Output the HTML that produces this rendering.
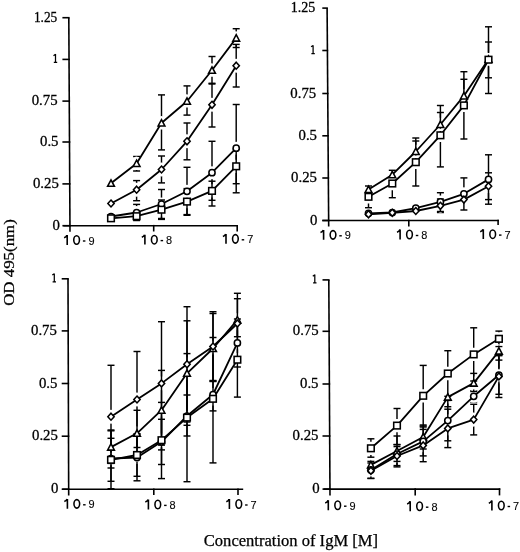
<!DOCTYPE html>
<html><head><meta charset="utf-8"><style>
html,body{margin:0;padding:0;background:#fff;overflow:hidden;width:520px;height:552px;}
svg{display:block;filter:grayscale(1);}
.se{font-family:"Liberation Serif",serif;}
.sa{font-family:"Liberation Sans",sans-serif;}
</style></head><body>
<svg width="520" height="552" viewBox="0 0 520 552">
<g stroke="#000" fill="none" stroke-linecap="butt">
<line x1="68.8" y1="17.7" x2="70" y2="231.8" stroke-width="1.6"/>
<line x1="62.4" y1="17.7" x2="69.6" y2="17.7" stroke-width="1.6"/>
<line x1="62.4" y1="59.4" x2="69.83" y2="59.4" stroke-width="1.6"/>
<line x1="62.4" y1="101.1" x2="70.07" y2="101.1" stroke-width="1.6"/>
<line x1="62.4" y1="142" x2="70.3" y2="142" stroke-width="1.6"/>
<line x1="62.4" y1="183.9" x2="70.53" y2="183.9" stroke-width="1.6"/>
<line x1="62.4" y1="225.7" x2="70.77" y2="225.7" stroke-width="1.6"/>
<line x1="63.4" y1="225.7" x2="238" y2="225.7" stroke-width="1.6"/>
<line x1="153.7" y1="224.9" x2="153.7" y2="231.5" stroke-width="1.6"/>
<line x1="237.2" y1="224.9" x2="237.2" y2="231.5" stroke-width="1.6"/>
</g>
<mask id="mAtr" maskUnits="userSpaceOnUse" x="0" y="0" width="520" height="552"><rect width="520" height="552" fill="#fff"/>
<g stroke="#000" fill="#000" stroke-width="6.75" stroke-linejoin="round">
<path d="M136.6 160.1L140 166.5L133.2 166.5Z"/>
<path d="M161.5 119.6L164.9 126L158.1 126Z"/>
<path d="M187 97.8L190.4 104.2L183.6 104.2Z"/>
<path d="M212 66.9L215.4 73.3L208.6 73.3Z"/>
<path d="M236.2 34.7L239.6 41.1L232.8 41.1Z"/>
</g></mask>
<g stroke="#000" fill="none" stroke-width="1.45" mask="url(#mAtr)">
<line x1="136.6" y1="156.5" x2="136.6" y2="171" stroke-width="1.45"/>
<line x1="133.1" y1="156.5" x2="140.1" y2="156.5" stroke-width="1.45"/>
<line x1="133.1" y1="171" x2="140.1" y2="171" stroke-width="1.45"/>
<line x1="161.5" y1="94.9" x2="161.5" y2="149.9" stroke-width="1.45"/>
<line x1="158" y1="94.9" x2="165" y2="94.9" stroke-width="1.45"/>
<line x1="158" y1="149.9" x2="165" y2="149.9" stroke-width="1.45"/>
<line x1="187" y1="85.9" x2="187" y2="115.1" stroke-width="1.45"/>
<line x1="183.5" y1="85.9" x2="190.5" y2="85.9" stroke-width="1.45"/>
<line x1="183.5" y1="115.1" x2="190.5" y2="115.1" stroke-width="1.45"/>
<line x1="212" y1="56.5" x2="212" y2="84" stroke-width="1.45"/>
<line x1="208.5" y1="56.5" x2="215.5" y2="56.5" stroke-width="1.45"/>
<line x1="208.5" y1="84" x2="215.5" y2="84" stroke-width="1.45"/>
<line x1="236.2" y1="28.7" x2="236.2" y2="47.5" stroke-width="1.45"/>
<line x1="232.7" y1="28.7" x2="239.7" y2="28.7" stroke-width="1.45"/>
<line x1="232.7" y1="47.5" x2="239.7" y2="47.5" stroke-width="1.45"/>
</g>
<mask id="mAdi" maskUnits="userSpaceOnUse" x="0" y="0" width="520" height="552"><rect width="520" height="552" fill="#fff"/>
<g stroke="#000" fill="#000" stroke-width="6.75" stroke-linejoin="round">
<path d="M136.6 186.25L139.75 189.7L136.6 193.15L133.45 189.7Z"/>
<path d="M161.5 166.05L164.65 169.5L161.5 172.95L158.35 169.5Z"/>
<path d="M187 137.85L190.15 141.3L187 144.75L183.85 141.3Z"/>
<path d="M212 101.35L215.15 104.8L212 108.25L208.85 104.8Z"/>
<path d="M236.2 62.25L239.35 65.7L236.2 69.15L233.05 65.7Z"/>
</g></mask>
<g stroke="#000" fill="none" stroke-width="1.45" mask="url(#mAdi)">
<line x1="136.6" y1="180.6" x2="136.6" y2="200.7" stroke-width="1.45"/>
<line x1="133.1" y1="180.6" x2="140.1" y2="180.6" stroke-width="1.45"/>
<line x1="133.1" y1="200.7" x2="140.1" y2="200.7" stroke-width="1.45"/>
<line x1="161.5" y1="156" x2="161.5" y2="182.9" stroke-width="1.45"/>
<line x1="158" y1="156" x2="165" y2="156" stroke-width="1.45"/>
<line x1="158" y1="182.9" x2="165" y2="182.9" stroke-width="1.45"/>
<line x1="187" y1="123" x2="187" y2="159.8" stroke-width="1.45"/>
<line x1="183.5" y1="123" x2="190.5" y2="123" stroke-width="1.45"/>
<line x1="183.5" y1="159.8" x2="190.5" y2="159.8" stroke-width="1.45"/>
<line x1="212" y1="83.3" x2="212" y2="127" stroke-width="1.45"/>
<line x1="208.5" y1="83.3" x2="215.5" y2="83.3" stroke-width="1.45"/>
<line x1="208.5" y1="127" x2="215.5" y2="127" stroke-width="1.45"/>
<line x1="236.2" y1="44.4" x2="236.2" y2="87" stroke-width="1.45"/>
<line x1="232.7" y1="44.4" x2="239.7" y2="44.4" stroke-width="1.45"/>
<line x1="232.7" y1="87" x2="239.7" y2="87" stroke-width="1.45"/>
</g>
<mask id="mAci" maskUnits="userSpaceOnUse" x="0" y="0" width="520" height="552"><rect width="520" height="552" fill="#fff"/>
<g stroke="#000" fill="#000" stroke-width="6.75" stroke-linejoin="round">
<circle cx="136.6" cy="212.5" r="3.1"/>
<circle cx="161.5" cy="204" r="3.1"/>
<circle cx="187" cy="191.3" r="3.1"/>
<circle cx="212" cy="172.7" r="3.1"/>
<circle cx="236.2" cy="148.2" r="3.1"/>
</g></mask>
<g stroke="#000" fill="none" stroke-width="1.45" mask="url(#mAci)">
<line x1="136.6" y1="204.4" x2="136.6" y2="220.5" stroke-width="1.45"/>
<line x1="133.1" y1="204.4" x2="140.1" y2="204.4" stroke-width="1.45"/>
<line x1="133.1" y1="220.5" x2="140.1" y2="220.5" stroke-width="1.45"/>
<line x1="161.5" y1="189.5" x2="161.5" y2="218.5" stroke-width="1.45"/>
<line x1="158" y1="189.5" x2="165" y2="189.5" stroke-width="1.45"/>
<line x1="158" y1="218.5" x2="165" y2="218.5" stroke-width="1.45"/>
<line x1="187" y1="167.3" x2="187" y2="215.3" stroke-width="1.45"/>
<line x1="183.5" y1="167.3" x2="190.5" y2="167.3" stroke-width="1.45"/>
<line x1="183.5" y1="215.3" x2="190.5" y2="215.3" stroke-width="1.45"/>
<line x1="212" y1="141.3" x2="212" y2="206" stroke-width="1.45"/>
<line x1="208.5" y1="141.3" x2="215.5" y2="141.3" stroke-width="1.45"/>
<line x1="208.5" y1="206" x2="215.5" y2="206" stroke-width="1.45"/>
<line x1="236.2" y1="104.5" x2="236.2" y2="192.8" stroke-width="1.45"/>
<line x1="232.7" y1="104.5" x2="239.7" y2="104.5" stroke-width="1.45"/>
<line x1="232.7" y1="192.8" x2="239.7" y2="192.8" stroke-width="1.45"/>
</g>
<mask id="mAsq" maskUnits="userSpaceOnUse" x="0" y="0" width="520" height="552"><rect width="520" height="552" fill="#fff"/>
<g stroke="#000" fill="#000" stroke-width="6.75" stroke-linejoin="round">
<rect x="158.2" y="206.4" width="6.6" height="6.6"/>
<rect x="183.7" y="198.3" width="6.6" height="6.6"/>
<rect x="208.7" y="187.6" width="6.6" height="6.6"/>
<rect x="232.9" y="163" width="6.6" height="6.6"/>
</g></mask>
<g stroke="#000" fill="none" stroke-width="1.45" mask="url(#mAsq)">
<line x1="161.5" y1="200" x2="161.5" y2="219.4" stroke-width="1.45"/>
<line x1="158" y1="200" x2="165" y2="200" stroke-width="1.45"/>
<line x1="158" y1="219.4" x2="165" y2="219.4" stroke-width="1.45"/>
<line x1="187" y1="188.6" x2="187" y2="214.6" stroke-width="1.45"/>
<line x1="183.5" y1="188.6" x2="190.5" y2="188.6" stroke-width="1.45"/>
<line x1="183.5" y1="214.6" x2="190.5" y2="214.6" stroke-width="1.45"/>
<line x1="212" y1="181.2" x2="212" y2="200.3" stroke-width="1.45"/>
<line x1="208.5" y1="181.2" x2="215.5" y2="181.2" stroke-width="1.45"/>
<line x1="208.5" y1="200.3" x2="215.5" y2="200.3" stroke-width="1.45"/>
<line x1="236.2" y1="149" x2="236.2" y2="183.7" stroke-width="1.45"/>
<line x1="232.7" y1="149" x2="239.7" y2="149" stroke-width="1.45"/>
<line x1="232.7" y1="183.7" x2="239.7" y2="183.7" stroke-width="1.45"/>
</g>
<g stroke="#000" fill="none" stroke-width="1.8" stroke-linejoin="round">
<polyline points="111,183.3 136.6,163.5 161.5,123 187,101.2 212,70.3 236.2,38.1"/>
<polyline points="111,203.5 136.6,189.7 161.5,169.5 187,141.3 212,104.8 236.2,65.7"/>
<polyline points="111,216.5 136.6,212.5 161.5,204 187,191.3 212,172.7 236.2,148.2"/>
<polyline points="111,218.3 136.6,216.2 161.5,209.7 187,201.6 212,190.9 236.2,166.3"/>
</g>
<g stroke="#000" fill="#fff" stroke-width="1.55">
<path d="M111 179.9L114.4 186.3L107.6 186.3Z"/>
<path d="M136.6 160.1L140 166.5L133.2 166.5Z"/>
<path d="M161.5 119.6L164.9 126L158.1 126Z"/>
<path d="M187 97.8L190.4 104.2L183.6 104.2Z"/>
<path d="M212 66.9L215.4 73.3L208.6 73.3Z"/>
<path d="M236.2 34.7L239.6 41.1L232.8 41.1Z"/>
<path d="M111 200.05L114.15 203.5L111 206.95L107.85 203.5Z"/>
<path d="M136.6 186.25L139.75 189.7L136.6 193.15L133.45 189.7Z"/>
<path d="M161.5 166.05L164.65 169.5L161.5 172.95L158.35 169.5Z"/>
<path d="M187 137.85L190.15 141.3L187 144.75L183.85 141.3Z"/>
<path d="M212 101.35L215.15 104.8L212 108.25L208.85 104.8Z"/>
<path d="M236.2 62.25L239.35 65.7L236.2 69.15L233.05 65.7Z"/>
<circle cx="111" cy="216.5" r="3.1"/>
<circle cx="136.6" cy="212.5" r="3.1"/>
<circle cx="161.5" cy="204" r="3.1"/>
<circle cx="187" cy="191.3" r="3.1"/>
<circle cx="212" cy="172.7" r="3.1"/>
<circle cx="236.2" cy="148.2" r="3.1"/>
<rect x="107.7" y="215" width="6.6" height="6.6"/>
<rect x="133.3" y="212.9" width="6.6" height="6.6"/>
<rect x="158.2" y="206.4" width="6.6" height="6.6"/>
<rect x="183.7" y="198.3" width="6.6" height="6.6"/>
<rect x="208.7" y="187.6" width="6.6" height="6.6"/>
<rect x="232.9" y="163" width="6.6" height="6.6"/>
</g>
<g class="se" font-size="14.8" fill="#000" stroke="#000" stroke-width="0.3" text-anchor="end">
<text x="57.3" y="21.7" textLength="23.4" lengthAdjust="spacingAndGlyphs">1.25</text>
<path d="M55.5 54.1V63M53.8 62.45H57.2M53.5 55.7L55.5 54.3" fill="none" stroke="#000" stroke-width="1.25"/>
<text x="57.6" y="105.1">0.75</text>
<text x="58.5" y="146">0.5</text>
<text x="58.8" y="187.9">0.25</text>
<text x="60" y="229.7">0</text>
</g>
<g class="sa" fill="#000">
<path d="M64.1 237.7Q66.3 236.9 66.9 235.2M67.2 235.1V245" fill="none" stroke="#000" stroke-width="1.6"/>
<ellipse cx="76.6" cy="240.05" rx="2.85" ry="4.25" fill="none" stroke="#000" stroke-width="1.55"/>
<rect x="82.9" y="240.3" width="2.5" height="1.4"/>
<text x="88.4" y="244.5" font-size="10.8" textLength="6.1" lengthAdjust="spacingAndGlyphs" stroke="#000" stroke-width="0.1">9</text>
<path d="M141.8 237.3Q144 236.5 144.6 234.8M144.9 234.7V244.6" fill="none" stroke="#000" stroke-width="1.6"/>
<ellipse cx="154.3" cy="239.65" rx="2.85" ry="4.25" fill="none" stroke="#000" stroke-width="1.55"/>
<rect x="160.6" y="239.9" width="2.5" height="1.4"/>
<text x="166.1" y="244.1" font-size="10.8" textLength="6.1" lengthAdjust="spacingAndGlyphs" stroke="#000" stroke-width="0.1">8</text>
<path d="M222.9 236.5Q225.1 235.7 225.7 234M226 233.9V243.8" fill="none" stroke="#000" stroke-width="1.6"/>
<ellipse cx="235.4" cy="238.85" rx="2.85" ry="4.25" fill="none" stroke="#000" stroke-width="1.55"/>
<rect x="241.7" y="239.1" width="2.5" height="1.4"/>
<text x="247.2" y="243.3" font-size="10.8" textLength="6.1" lengthAdjust="spacingAndGlyphs" stroke="#000" stroke-width="0.1">7</text>
</g>
<g stroke="#000" fill="none" stroke-linecap="butt">
<line x1="327.1" y1="8.1" x2="328.7" y2="226.5" stroke-width="1.6"/>
<line x1="322.3" y1="8.1" x2="327.9" y2="8.1" stroke-width="1.6"/>
<line x1="322.3" y1="50.5" x2="328.21" y2="50.5" stroke-width="1.6"/>
<line x1="322.3" y1="93.5" x2="328.53" y2="93.5" stroke-width="1.6"/>
<line x1="322.3" y1="135.8" x2="328.84" y2="135.8" stroke-width="1.6"/>
<line x1="322.3" y1="178" x2="329.14" y2="178" stroke-width="1.6"/>
<line x1="322.3" y1="220.5" x2="329.46" y2="220.5" stroke-width="1.6"/>
<line x1="322.3" y1="220.5" x2="498.9" y2="220.5" stroke-width="1.6"/>
<line x1="408.8" y1="219.7" x2="408.8" y2="226.4" stroke-width="1.6"/>
<line x1="498.1" y1="219.7" x2="498.1" y2="225" stroke-width="1.6"/>
</g>
<mask id="mBtr" maskUnits="userSpaceOnUse" x="0" y="0" width="520" height="552"><rect width="520" height="552" fill="#fff"/>
<g stroke="#000" fill="#000" stroke-width="6.75" stroke-linejoin="round">
<path d="M415.8 148.1L419.2 154.5L412.4 154.5Z"/>
<path d="M440.4 121.1L443.8 127.5L437 127.5Z"/>
<path d="M463.9 92.5L467.3 98.9L460.5 98.9Z"/>
<path d="M488.5 55.9L491.9 62.3L485.1 62.3Z"/>
</g></mask>
<g stroke="#000" fill="none" stroke-width="1.45" mask="url(#mBtr)">
<line x1="415.8" y1="141" x2="415.8" y2="162" stroke-width="1.45"/>
<line x1="412.3" y1="141" x2="419.3" y2="141" stroke-width="1.45"/>
<line x1="412.3" y1="162" x2="419.3" y2="162" stroke-width="1.45"/>
<line x1="440.4" y1="112.5" x2="440.4" y2="136.5" stroke-width="1.45"/>
<line x1="436.9" y1="112.5" x2="443.9" y2="112.5" stroke-width="1.45"/>
<line x1="436.9" y1="136.5" x2="443.9" y2="136.5" stroke-width="1.45"/>
<line x1="463.9" y1="79.3" x2="463.9" y2="95.9" stroke-width="1.45"/>
<line x1="460.4" y1="79.3" x2="467.4" y2="79.3" stroke-width="1.45"/>
<line x1="488.5" y1="42" x2="488.5" y2="77.8" stroke-width="1.45"/>
<line x1="485" y1="42" x2="492" y2="42" stroke-width="1.45"/>
<line x1="485" y1="77.8" x2="492" y2="77.8" stroke-width="1.45"/>
</g>
<mask id="mBsq" maskUnits="userSpaceOnUse" x="0" y="0" width="520" height="552"><rect width="520" height="552" fill="#fff"/>
<g stroke="#000" fill="#000" stroke-width="6.75" stroke-linejoin="round">
<rect x="365.2" y="193.5" width="6.6" height="6.6"/>
<rect x="389" y="180.2" width="6.6" height="6.6"/>
<rect x="412.5" y="158.9" width="6.6" height="6.6"/>
<rect x="437.1" y="132" width="6.6" height="6.6"/>
<rect x="460.6" y="102.1" width="6.6" height="6.6"/>
<rect x="485.2" y="56.4" width="6.6" height="6.6"/>
</g></mask>
<g stroke="#000" fill="none" stroke-width="1.45" mask="url(#mBsq)">
<line x1="368.5" y1="186" x2="368.5" y2="207.7" stroke-width="1.45"/>
<line x1="365" y1="186" x2="372" y2="186" stroke-width="1.45"/>
<line x1="365" y1="207.7" x2="372" y2="207.7" stroke-width="1.45"/>
<line x1="392.3" y1="170.3" x2="392.3" y2="197.7" stroke-width="1.45"/>
<line x1="388.8" y1="170.3" x2="395.8" y2="170.3" stroke-width="1.45"/>
<line x1="388.8" y1="197.7" x2="395.8" y2="197.7" stroke-width="1.45"/>
<line x1="415.8" y1="138" x2="415.8" y2="186" stroke-width="1.45"/>
<line x1="412.3" y1="138" x2="419.3" y2="138" stroke-width="1.45"/>
<line x1="412.3" y1="186" x2="419.3" y2="186" stroke-width="1.45"/>
<line x1="440.4" y1="105.5" x2="440.4" y2="166.9" stroke-width="1.45"/>
<line x1="436.9" y1="105.5" x2="443.9" y2="105.5" stroke-width="1.45"/>
<line x1="436.9" y1="166.9" x2="443.9" y2="166.9" stroke-width="1.45"/>
<line x1="463.9" y1="71.7" x2="463.9" y2="139" stroke-width="1.45"/>
<line x1="460.4" y1="71.7" x2="467.4" y2="71.7" stroke-width="1.45"/>
<line x1="460.4" y1="139" x2="467.4" y2="139" stroke-width="1.45"/>
<line x1="488.5" y1="26.8" x2="488.5" y2="93.5" stroke-width="1.45"/>
<line x1="485" y1="26.8" x2="492" y2="26.8" stroke-width="1.45"/>
<line x1="485" y1="93.5" x2="492" y2="93.5" stroke-width="1.45"/>
</g>
<mask id="mBci" maskUnits="userSpaceOnUse" x="0" y="0" width="520" height="552"><rect width="520" height="552" fill="#fff"/>
<g stroke="#000" fill="#000" stroke-width="6.75" stroke-linejoin="round">
<circle cx="440.4" cy="201.9" r="3.1"/>
<circle cx="463.9" cy="193.8" r="3.1"/>
<circle cx="488.5" cy="179.4" r="3.1"/>
</g></mask>
<g stroke="#000" fill="none" stroke-width="1.45" mask="url(#mBci)">
<line x1="440.4" y1="192.7" x2="440.4" y2="211.5" stroke-width="1.45"/>
<line x1="436.9" y1="192.7" x2="443.9" y2="192.7" stroke-width="1.45"/>
<line x1="436.9" y1="211.5" x2="443.9" y2="211.5" stroke-width="1.45"/>
<line x1="463.9" y1="177.9" x2="463.9" y2="210" stroke-width="1.45"/>
<line x1="460.4" y1="177.9" x2="467.4" y2="177.9" stroke-width="1.45"/>
<line x1="460.4" y1="210" x2="467.4" y2="210" stroke-width="1.45"/>
<line x1="488.5" y1="154.8" x2="488.5" y2="204.2" stroke-width="1.45"/>
<line x1="485" y1="154.8" x2="492" y2="154.8" stroke-width="1.45"/>
<line x1="485" y1="204.2" x2="492" y2="204.2" stroke-width="1.45"/>
</g>
<mask id="mBdi" maskUnits="userSpaceOnUse" x="0" y="0" width="520" height="552"><rect width="520" height="552" fill="#fff"/>
<g stroke="#000" fill="#000" stroke-width="6.75" stroke-linejoin="round">
<path d="M440.4 202.35L443.55 205.8L440.4 209.25L437.25 205.8Z"/>
<path d="M488.5 182.75L491.65 186.2L488.5 189.65L485.35 186.2Z"/>
</g></mask>
<g stroke="#000" fill="none" stroke-width="1.45" mask="url(#mBdi)">
<line x1="440.4" y1="199" x2="440.4" y2="212.5" stroke-width="1.45"/>
<line x1="436.9" y1="199" x2="443.9" y2="199" stroke-width="1.45"/>
<line x1="436.9" y1="212.5" x2="443.9" y2="212.5" stroke-width="1.45"/>
<line x1="488.5" y1="172.8" x2="488.5" y2="199.6" stroke-width="1.45"/>
<line x1="485" y1="172.8" x2="492" y2="172.8" stroke-width="1.45"/>
<line x1="485" y1="199.6" x2="492" y2="199.6" stroke-width="1.45"/>
</g>
<g stroke="#000" fill="none" stroke-width="1.8" stroke-linejoin="round">
<polyline points="368.5,189.5 392.3,174.7 415.8,151.5 440.4,124.5 463.9,95.9 488.5,59.3"/>
<polyline points="368.5,196.8 392.3,183.5 415.8,162.2 440.4,135.3 463.9,105.4 488.5,59.7"/>
<polyline points="368.5,213.3 392.3,212.5 415.8,208.1 440.4,201.9 463.9,193.8 488.5,179.4"/>
<polyline points="368.5,214.3 392.3,212.8 415.8,211 440.4,205.8 463.9,199.6 488.5,186.2"/>
</g>
<g stroke="#000" fill="#fff" stroke-width="1.55">
<path d="M368.5 186.1L371.9 192.5L365.1 192.5Z"/>
<path d="M392.3 171.3L395.7 177.7L388.9 177.7Z"/>
<path d="M415.8 148.1L419.2 154.5L412.4 154.5Z"/>
<path d="M440.4 121.1L443.8 127.5L437 127.5Z"/>
<path d="M463.9 92.5L467.3 98.9L460.5 98.9Z"/>
<path d="M488.5 55.9L491.9 62.3L485.1 62.3Z"/>
<rect x="365.2" y="193.5" width="6.6" height="6.6"/>
<rect x="389" y="180.2" width="6.6" height="6.6"/>
<rect x="412.5" y="158.9" width="6.6" height="6.6"/>
<rect x="437.1" y="132" width="6.6" height="6.6"/>
<rect x="460.6" y="102.1" width="6.6" height="6.6"/>
<rect x="485.2" y="56.4" width="6.6" height="6.6"/>
<circle cx="368.5" cy="213.3" r="3.1"/>
<circle cx="392.3" cy="212.5" r="3.1"/>
<circle cx="415.8" cy="208.1" r="3.1"/>
<circle cx="440.4" cy="201.9" r="3.1"/>
<circle cx="463.9" cy="193.8" r="3.1"/>
<circle cx="488.5" cy="179.4" r="3.1"/>
<path d="M368.5 210.85L371.65 214.3L368.5 217.75L365.35 214.3Z"/>
<path d="M392.3 209.35L395.45 212.8L392.3 216.25L389.15 212.8Z"/>
<path d="M415.8 207.55L418.95 211L415.8 214.45L412.65 211Z"/>
<path d="M440.4 202.35L443.55 205.8L440.4 209.25L437.25 205.8Z"/>
<path d="M463.9 196.15L467.05 199.6L463.9 203.05L460.75 199.6Z"/>
<path d="M488.5 182.75L491.65 186.2L488.5 189.65L485.35 186.2Z"/>
</g>
<g class="se" font-size="14.8" fill="#000" stroke="#000" stroke-width="0.3" text-anchor="end">
<text x="315.4" y="12.1" textLength="24.6" lengthAdjust="spacingAndGlyphs">1.25</text>
<path d="M313.1 45.2V54.1M311.4 53.55H314.8M311.1 46.8L313.1 45.4" fill="none" stroke="#000" stroke-width="1.25"/>
<text x="316.2" y="97.5">0.75</text>
<text x="317" y="139.8">0.5</text>
<text x="317" y="182">0.25</text>
<text x="317.4" y="224.5">0</text>
</g>
<g class="sa" fill="#000">
<path d="M320.5 232.5Q322.7 231.7 323.3 230M323.6 229.9V239.8" fill="none" stroke="#000" stroke-width="1.6"/>
<ellipse cx="333" cy="234.85" rx="2.85" ry="4.25" fill="none" stroke="#000" stroke-width="1.55"/>
<rect x="339.3" y="235.1" width="2.5" height="1.4"/>
<text x="344.8" y="239.3" font-size="10.8" textLength="6.1" lengthAdjust="spacingAndGlyphs" stroke="#000" stroke-width="0.1">9</text>
<path d="M397 232.2Q399.2 231.4 399.8 229.7M400.1 229.6V239.5" fill="none" stroke="#000" stroke-width="1.6"/>
<ellipse cx="409.5" cy="234.55" rx="2.85" ry="4.25" fill="none" stroke="#000" stroke-width="1.55"/>
<rect x="415.8" y="234.8" width="2.5" height="1.4"/>
<text x="421.3" y="239" font-size="10.8" textLength="6.1" lengthAdjust="spacingAndGlyphs" stroke="#000" stroke-width="0.1">8</text>
<path d="M480.2 231.8Q482.4 231 483 229.3M483.3 229.2V239.1" fill="none" stroke="#000" stroke-width="1.6"/>
<ellipse cx="492.7" cy="234.15" rx="2.85" ry="4.25" fill="none" stroke="#000" stroke-width="1.55"/>
<rect x="499" y="234.4" width="2.5" height="1.4"/>
<text x="504.5" y="238.6" font-size="10.8" textLength="6.1" lengthAdjust="spacingAndGlyphs" stroke="#000" stroke-width="0.1">7</text>
</g>
<g stroke="#000" fill="none" stroke-linecap="butt">
<line x1="68" y1="278.8" x2="68.7" y2="495.5" stroke-width="1.6"/>
<line x1="61.7" y1="278.8" x2="68.8" y2="278.8" stroke-width="1.6"/>
<line x1="61.7" y1="330.9" x2="68.97" y2="330.9" stroke-width="1.6"/>
<line x1="61.7" y1="383.5" x2="69.14" y2="383.5" stroke-width="1.6"/>
<line x1="61.7" y1="436.2" x2="69.31" y2="436.2" stroke-width="1.6"/>
<line x1="61.7" y1="489.2" x2="69.48" y2="489.2" stroke-width="1.6"/>
<line x1="62.3" y1="489.2" x2="243.2" y2="489.2" stroke-width="1.6"/>
<line x1="153.8" y1="488.4" x2="153.8" y2="495" stroke-width="1.6"/>
<line x1="238" y1="488.4" x2="238" y2="495" stroke-width="1.6"/>
</g>
<mask id="mCtr" maskUnits="userSpaceOnUse" x="0" y="0" width="520" height="552"><rect width="520" height="552" fill="#fff"/>
<g stroke="#000" fill="#000" stroke-width="6.75" stroke-linejoin="round">
<path d="M111 443.7L114.4 450.1L107.6 450.1Z"/>
<path d="M137 429.9L140.4 436.3L133.6 436.3Z"/>
<path d="M161.5 406.8L164.9 413.2L158.1 413.2Z"/>
<path d="M187 369.9L190.4 376.3L183.6 376.3Z"/>
<path d="M213 345.1L216.4 351.5L209.6 351.5Z"/>
<path d="M237.4 316.5L240.8 322.9L234 322.9Z"/>
</g></mask>
<g stroke="#000" fill="none" stroke-width="1.45" mask="url(#mCtr)">
<line x1="111" y1="430.8" x2="111" y2="463.4" stroke-width="1.45"/>
<line x1="107.5" y1="430.8" x2="114.5" y2="430.8" stroke-width="1.45"/>
<line x1="107.5" y1="463.4" x2="114.5" y2="463.4" stroke-width="1.45"/>
<line x1="137" y1="410.3" x2="137" y2="456.3" stroke-width="1.45"/>
<line x1="133.5" y1="410.3" x2="140.5" y2="410.3" stroke-width="1.45"/>
<line x1="133.5" y1="456.3" x2="140.5" y2="456.3" stroke-width="1.45"/>
<line x1="161.5" y1="370.4" x2="161.5" y2="449.9" stroke-width="1.45"/>
<line x1="158" y1="370.4" x2="165" y2="370.4" stroke-width="1.45"/>
<line x1="158" y1="449.9" x2="165" y2="449.9" stroke-width="1.45"/>
<line x1="187" y1="320.8" x2="187" y2="425.3" stroke-width="1.45"/>
<line x1="183.5" y1="320.8" x2="190.5" y2="320.8" stroke-width="1.45"/>
<line x1="183.5" y1="425.3" x2="190.5" y2="425.3" stroke-width="1.45"/>
<line x1="213" y1="313.5" x2="213" y2="381" stroke-width="1.45"/>
<line x1="209.5" y1="313.5" x2="216.5" y2="313.5" stroke-width="1.45"/>
<line x1="209.5" y1="381" x2="216.5" y2="381" stroke-width="1.45"/>
<line x1="237.4" y1="293.3" x2="237.4" y2="344.5" stroke-width="1.45"/>
<line x1="233.9" y1="293.3" x2="240.9" y2="293.3" stroke-width="1.45"/>
<line x1="233.9" y1="344.5" x2="240.9" y2="344.5" stroke-width="1.45"/>
</g>
<mask id="mCdi" maskUnits="userSpaceOnUse" x="0" y="0" width="520" height="552"><rect width="520" height="552" fill="#fff"/>
<g stroke="#000" fill="#000" stroke-width="6.75" stroke-linejoin="round">
<path d="M111 413.25L114.15 416.7L111 420.15L107.85 416.7Z"/>
<path d="M137 396.05L140.15 399.5L137 402.95L133.85 399.5Z"/>
<path d="M161.5 379.95L164.65 383.4L161.5 386.85L158.35 383.4Z"/>
<path d="M187 360.85L190.15 364.3L187 367.75L183.85 364.3Z"/>
<path d="M213 343.05L216.15 346.5L213 349.95L209.85 346.5Z"/>
<path d="M237.4 320.05L240.55 323.5L237.4 326.95L234.25 323.5Z"/>
</g></mask>
<g stroke="#000" fill="none" stroke-width="1.45" mask="url(#mCdi)">
<line x1="111" y1="365.3" x2="111" y2="468" stroke-width="1.45"/>
<line x1="107.5" y1="365.3" x2="114.5" y2="365.3" stroke-width="1.45"/>
<line x1="107.5" y1="468" x2="114.5" y2="468" stroke-width="1.45"/>
<line x1="137" y1="351.5" x2="137" y2="447.5" stroke-width="1.45"/>
<line x1="133.5" y1="351.5" x2="140.5" y2="351.5" stroke-width="1.45"/>
<line x1="133.5" y1="447.5" x2="140.5" y2="447.5" stroke-width="1.45"/>
<line x1="161.5" y1="321.7" x2="161.5" y2="445.1" stroke-width="1.45"/>
<line x1="158" y1="321.7" x2="165" y2="321.7" stroke-width="1.45"/>
<line x1="158" y1="445.1" x2="165" y2="445.1" stroke-width="1.45"/>
<line x1="187" y1="306.7" x2="187" y2="422" stroke-width="1.45"/>
<line x1="183.5" y1="306.7" x2="190.5" y2="306.7" stroke-width="1.45"/>
<line x1="183.5" y1="422" x2="190.5" y2="422" stroke-width="1.45"/>
<line x1="213" y1="311.7" x2="213" y2="381.5" stroke-width="1.45"/>
<line x1="209.5" y1="311.7" x2="216.5" y2="311.7" stroke-width="1.45"/>
<line x1="209.5" y1="381.5" x2="216.5" y2="381.5" stroke-width="1.45"/>
<line x1="237.4" y1="298.7" x2="237.4" y2="336.7" stroke-width="1.45"/>
<line x1="233.9" y1="298.7" x2="240.9" y2="298.7" stroke-width="1.45"/>
<line x1="233.9" y1="336.7" x2="240.9" y2="336.7" stroke-width="1.45"/>
</g>
<mask id="mCci" maskUnits="userSpaceOnUse" x="0" y="0" width="520" height="552"><rect width="520" height="552" fill="#fff"/>
<g stroke="#000" fill="#000" stroke-width="6.75" stroke-linejoin="round">
<circle cx="111" cy="458.5" r="3.1"/>
<circle cx="137" cy="457.5" r="3.1"/>
<circle cx="161.5" cy="441.8" r="3.1"/>
<circle cx="187" cy="416" r="3.1"/>
<circle cx="213" cy="394.5" r="3.1"/>
<circle cx="237.4" cy="342.9" r="3.1"/>
</g></mask>
<g stroke="#000" fill="none" stroke-width="1.45" mask="url(#mCci)">
<line x1="111" y1="430" x2="111" y2="488.7" stroke-width="1.45"/>
<line x1="107.5" y1="430" x2="114.5" y2="430" stroke-width="1.45"/>
<line x1="107.5" y1="488.7" x2="114.5" y2="488.7" stroke-width="1.45"/>
<line x1="137" y1="434.2" x2="137" y2="480.8" stroke-width="1.45"/>
<line x1="133.5" y1="434.2" x2="140.5" y2="434.2" stroke-width="1.45"/>
<line x1="133.5" y1="480.8" x2="140.5" y2="480.8" stroke-width="1.45"/>
<line x1="161.5" y1="419.3" x2="161.5" y2="464.5" stroke-width="1.45"/>
<line x1="158" y1="419.3" x2="165" y2="419.3" stroke-width="1.45"/>
<line x1="158" y1="464.5" x2="165" y2="464.5" stroke-width="1.45"/>
<line x1="187" y1="395" x2="187" y2="436" stroke-width="1.45"/>
<line x1="183.5" y1="395" x2="190.5" y2="395" stroke-width="1.45"/>
<line x1="183.5" y1="436" x2="190.5" y2="436" stroke-width="1.45"/>
<line x1="213" y1="380.5" x2="213" y2="410.9" stroke-width="1.45"/>
<line x1="209.5" y1="380.5" x2="216.5" y2="380.5" stroke-width="1.45"/>
<line x1="209.5" y1="410.9" x2="216.5" y2="410.9" stroke-width="1.45"/>
<line x1="237.4" y1="319" x2="237.4" y2="367" stroke-width="1.45"/>
<line x1="233.9" y1="319" x2="240.9" y2="319" stroke-width="1.45"/>
<line x1="233.9" y1="367" x2="240.9" y2="367" stroke-width="1.45"/>
</g>
<mask id="mCsq" maskUnits="userSpaceOnUse" x="0" y="0" width="520" height="552"><rect width="520" height="552" fill="#fff"/>
<g stroke="#000" fill="#000" stroke-width="6.75" stroke-linejoin="round">
<rect x="107.7" y="456.5" width="6.6" height="6.6"/>
<rect x="133.7" y="451.7" width="6.6" height="6.6"/>
<rect x="158.2" y="436.9" width="6.6" height="6.6"/>
<rect x="183.7" y="414.3" width="6.6" height="6.6"/>
<rect x="209.7" y="395.5" width="6.6" height="6.6"/>
<rect x="234.1" y="356.4" width="6.6" height="6.6"/>
</g></mask>
<g stroke="#000" fill="none" stroke-width="1.45" mask="url(#mCsq)">
<line x1="111" y1="438.3" x2="111" y2="481.3" stroke-width="1.45"/>
<line x1="107.5" y1="438.3" x2="114.5" y2="438.3" stroke-width="1.45"/>
<line x1="107.5" y1="481.3" x2="114.5" y2="481.3" stroke-width="1.45"/>
<line x1="137" y1="433.7" x2="137" y2="476.3" stroke-width="1.45"/>
<line x1="133.5" y1="433.7" x2="140.5" y2="433.7" stroke-width="1.45"/>
<line x1="133.5" y1="476.3" x2="140.5" y2="476.3" stroke-width="1.45"/>
<line x1="161.5" y1="402.4" x2="161.5" y2="478.6" stroke-width="1.45"/>
<line x1="158" y1="402.4" x2="165" y2="402.4" stroke-width="1.45"/>
<line x1="158" y1="478.6" x2="165" y2="478.6" stroke-width="1.45"/>
<line x1="187" y1="353.6" x2="187" y2="481.7" stroke-width="1.45"/>
<line x1="183.5" y1="353.6" x2="190.5" y2="353.6" stroke-width="1.45"/>
<line x1="183.5" y1="481.7" x2="190.5" y2="481.7" stroke-width="1.45"/>
<line x1="213" y1="337.5" x2="213" y2="462.9" stroke-width="1.45"/>
<line x1="209.5" y1="337.5" x2="216.5" y2="337.5" stroke-width="1.45"/>
<line x1="209.5" y1="462.9" x2="216.5" y2="462.9" stroke-width="1.45"/>
<line x1="237.4" y1="322.3" x2="237.4" y2="397.1" stroke-width="1.45"/>
<line x1="233.9" y1="322.3" x2="240.9" y2="322.3" stroke-width="1.45"/>
<line x1="233.9" y1="397.1" x2="240.9" y2="397.1" stroke-width="1.45"/>
</g>
<g stroke="#000" fill="none" stroke-width="1.8" stroke-linejoin="round">
<polyline points="111,447.1 137,433.3 161.5,410.2 187,373.3 213,348.5 237.4,319.9"/>
<polyline points="111,416.7 137,399.5 161.5,383.4 187,364.3 213,346.5 237.4,323.5"/>
<polyline points="111,458.5 137,457.5 161.5,441.8 187,416 213,394.5 237.4,342.9"/>
<polyline points="111,459.8 137,455 161.5,440.2 187,417.6 213,398.8 237.4,359.7"/>
</g>
<g stroke="#000" fill="#fff" stroke-width="1.55">
<path d="M111 443.7L114.4 450.1L107.6 450.1Z"/>
<path d="M137 429.9L140.4 436.3L133.6 436.3Z"/>
<path d="M161.5 406.8L164.9 413.2L158.1 413.2Z"/>
<path d="M187 369.9L190.4 376.3L183.6 376.3Z"/>
<path d="M213 345.1L216.4 351.5L209.6 351.5Z"/>
<path d="M237.4 316.5L240.8 322.9L234 322.9Z"/>
<path d="M111 413.25L114.15 416.7L111 420.15L107.85 416.7Z"/>
<path d="M137 396.05L140.15 399.5L137 402.95L133.85 399.5Z"/>
<path d="M161.5 379.95L164.65 383.4L161.5 386.85L158.35 383.4Z"/>
<path d="M187 360.85L190.15 364.3L187 367.75L183.85 364.3Z"/>
<path d="M213 343.05L216.15 346.5L213 349.95L209.85 346.5Z"/>
<path d="M237.4 320.05L240.55 323.5L237.4 326.95L234.25 323.5Z"/>
<circle cx="111" cy="458.5" r="3.1"/>
<circle cx="137" cy="457.5" r="3.1"/>
<circle cx="161.5" cy="441.8" r="3.1"/>
<circle cx="187" cy="416" r="3.1"/>
<circle cx="213" cy="394.5" r="3.1"/>
<circle cx="237.4" cy="342.9" r="3.1"/>
<rect x="107.7" y="456.5" width="6.6" height="6.6"/>
<rect x="133.7" y="451.7" width="6.6" height="6.6"/>
<rect x="158.2" y="436.9" width="6.6" height="6.6"/>
<rect x="183.7" y="414.3" width="6.6" height="6.6"/>
<rect x="209.7" y="395.5" width="6.6" height="6.6"/>
<rect x="234.1" y="356.4" width="6.6" height="6.6"/>
</g>
<g class="se" font-size="14.8" fill="#000" stroke="#000" stroke-width="0.3" text-anchor="end">
<path d="M54.3 273.5V282.4M52.6 281.85H56M52.3 275.1L54.3 273.7" fill="none" stroke="#000" stroke-width="1.25"/>
<text x="56.9" y="334.9">0.75</text>
<text x="57.4" y="387.5">0.5</text>
<text x="57.9" y="440.2">0.25</text>
<text x="58.5" y="493.2">0</text>
</g>
<g class="sa" fill="#000">
<path d="M64.3 501.5Q66.5 500.7 67.1 499M67.4 498.9V508.8" fill="none" stroke="#000" stroke-width="1.6"/>
<ellipse cx="76.8" cy="503.85" rx="2.85" ry="4.25" fill="none" stroke="#000" stroke-width="1.55"/>
<rect x="83.1" y="504.1" width="2.5" height="1.4"/>
<text x="88.6" y="508.3" font-size="10.8" textLength="6.1" lengthAdjust="spacingAndGlyphs" stroke="#000" stroke-width="0.1">9</text>
<path d="M145.3 502.1Q147.5 501.3 148.1 499.6M148.4 499.5V509.4" fill="none" stroke="#000" stroke-width="1.6"/>
<ellipse cx="157.8" cy="504.45" rx="2.85" ry="4.25" fill="none" stroke="#000" stroke-width="1.55"/>
<rect x="164.1" y="504.7" width="2.5" height="1.4"/>
<text x="169.6" y="508.9" font-size="10.8" textLength="6.1" lengthAdjust="spacingAndGlyphs" stroke="#000" stroke-width="0.1">8</text>
<path d="M226.3 501.7Q228.5 500.9 229.1 499.2M229.4 499.1V509" fill="none" stroke="#000" stroke-width="1.6"/>
<ellipse cx="238.8" cy="504.05" rx="2.85" ry="4.25" fill="none" stroke="#000" stroke-width="1.55"/>
<rect x="245.1" y="504.3" width="2.5" height="1.4"/>
<text x="250.6" y="508.5" font-size="10.8" textLength="6.1" lengthAdjust="spacingAndGlyphs" stroke="#000" stroke-width="0.1">7</text>
</g>
<g stroke="#000" fill="none" stroke-linecap="butt">
<line x1="328.8" y1="279.9" x2="330" y2="495.5" stroke-width="1.6"/>
<line x1="322.5" y1="279.9" x2="329.6" y2="279.9" stroke-width="1.6"/>
<line x1="322.5" y1="331.3" x2="329.89" y2="331.3" stroke-width="1.6"/>
<line x1="322.5" y1="384" x2="330.18" y2="384" stroke-width="1.6"/>
<line x1="322.5" y1="436" x2="330.47" y2="436" stroke-width="1.6"/>
<line x1="322.5" y1="489.1" x2="330.76" y2="489.1" stroke-width="1.6"/>
<line x1="323.6" y1="489.1" x2="500.3" y2="489.1" stroke-width="1.6"/>
<line x1="415.2" y1="488.3" x2="415.2" y2="495.4" stroke-width="1.6"/>
<line x1="499.5" y1="488.3" x2="499.5" y2="495.4" stroke-width="1.6"/>
</g>
<mask id="mDtr" maskUnits="userSpaceOnUse" x="0" y="0" width="520" height="552"><rect width="520" height="552" fill="#fff"/>
<g stroke="#000" fill="#000" stroke-width="6.75" stroke-linejoin="round">
<path d="M397 447.6L400.4 454L393.6 454Z"/>
<path d="M423.2 433.6L426.6 440L419.8 440Z"/>
<path d="M447.8 393.7L451.2 400.1L444.4 400.1Z"/>
<path d="M473.7 379.7L477.1 386.1L470.3 386.1Z"/>
<path d="M498.9 347.7L502.3 354.1L495.5 354.1Z"/>
</g></mask>
<g stroke="#000" fill="none" stroke-width="1.45" mask="url(#mDtr)">
<line x1="397" y1="436" x2="397" y2="465.6" stroke-width="1.45"/>
<line x1="393.5" y1="436" x2="400.5" y2="436" stroke-width="1.45"/>
<line x1="393.5" y1="465.6" x2="400.5" y2="465.6" stroke-width="1.45"/>
<line x1="423.2" y1="425" x2="423.2" y2="449" stroke-width="1.45"/>
<line x1="419.7" y1="425" x2="426.7" y2="425" stroke-width="1.45"/>
<line x1="419.7" y1="449" x2="426.7" y2="449" stroke-width="1.45"/>
<line x1="447.8" y1="397.1" x2="447.8" y2="406.7" stroke-width="1.45"/>
<line x1="444.3" y1="406.7" x2="451.3" y2="406.7" stroke-width="1.45"/>
<line x1="473.7" y1="373.4" x2="473.7" y2="391.5" stroke-width="1.45"/>
<line x1="470.2" y1="373.4" x2="477.2" y2="373.4" stroke-width="1.45"/>
<line x1="470.2" y1="391.5" x2="477.2" y2="391.5" stroke-width="1.45"/>
<line x1="498.9" y1="342" x2="498.9" y2="360.1" stroke-width="1.45"/>
<line x1="495.4" y1="342" x2="502.4" y2="342" stroke-width="1.45"/>
<line x1="495.4" y1="360.1" x2="502.4" y2="360.1" stroke-width="1.45"/>
</g>
<mask id="mDci" maskUnits="userSpaceOnUse" x="0" y="0" width="520" height="552"><rect width="520" height="552" fill="#fff"/>
<g stroke="#000" fill="#000" stroke-width="6.75" stroke-linejoin="round">
<circle cx="370.9" cy="469.9" r="3.1"/>
<circle cx="397" cy="454" r="3.1"/>
<circle cx="423.2" cy="441.4" r="3.1"/>
<circle cx="447.8" cy="420.6" r="3.1"/>
<circle cx="473.7" cy="396.3" r="3.1"/>
<circle cx="498.9" cy="375" r="3.1"/>
</g></mask>
<g stroke="#000" fill="none" stroke-width="1.45" mask="url(#mDci)">
<line x1="370.9" y1="461.4" x2="370.9" y2="478.3" stroke-width="1.45"/>
<line x1="367.4" y1="461.4" x2="374.4" y2="461.4" stroke-width="1.45"/>
<line x1="367.4" y1="478.3" x2="374.4" y2="478.3" stroke-width="1.45"/>
<line x1="397" y1="446.6" x2="397" y2="461.4" stroke-width="1.45"/>
<line x1="393.5" y1="446.6" x2="400.5" y2="446.6" stroke-width="1.45"/>
<line x1="393.5" y1="461.4" x2="400.5" y2="461.4" stroke-width="1.45"/>
<line x1="423.2" y1="427" x2="423.2" y2="455.9" stroke-width="1.45"/>
<line x1="419.7" y1="427" x2="426.7" y2="427" stroke-width="1.45"/>
<line x1="419.7" y1="455.9" x2="426.7" y2="455.9" stroke-width="1.45"/>
<line x1="447.8" y1="400.4" x2="447.8" y2="440.8" stroke-width="1.45"/>
<line x1="444.3" y1="400.4" x2="451.3" y2="400.4" stroke-width="1.45"/>
<line x1="444.3" y1="440.8" x2="451.3" y2="440.8" stroke-width="1.45"/>
<line x1="473.7" y1="390.7" x2="473.7" y2="402" stroke-width="1.45"/>
<line x1="470.2" y1="390.7" x2="477.2" y2="390.7" stroke-width="1.45"/>
<line x1="470.2" y1="402" x2="477.2" y2="402" stroke-width="1.45"/>
<line x1="498.9" y1="355.7" x2="498.9" y2="394.3" stroke-width="1.45"/>
<line x1="495.4" y1="355.7" x2="502.4" y2="355.7" stroke-width="1.45"/>
<line x1="495.4" y1="394.3" x2="502.4" y2="394.3" stroke-width="1.45"/>
</g>
<mask id="mDdi" maskUnits="userSpaceOnUse" x="0" y="0" width="520" height="552"><rect width="520" height="552" fill="#fff"/>
<g stroke="#000" fill="#000" stroke-width="6.75" stroke-linejoin="round">
<path d="M370.9 467.35L374.05 470.8L370.9 474.25L367.75 470.8Z"/>
<path d="M397 452.55L400.15 456L397 459.45L393.85 456Z"/>
<path d="M423.2 441.95L426.35 445.4L423.2 448.85L420.05 445.4Z"/>
<path d="M447.8 424.95L450.95 428.4L447.8 431.85L444.65 428.4Z"/>
<path d="M473.7 416.15L476.85 419.6L473.7 423.05L470.55 419.6Z"/>
<path d="M498.9 372.95L502.05 376.4L498.9 379.85L495.75 376.4Z"/>
</g></mask>
<g stroke="#000" fill="none" stroke-width="1.45" mask="url(#mDdi)">
<line x1="370.9" y1="463" x2="370.9" y2="478.5" stroke-width="1.45"/>
<line x1="367.4" y1="463" x2="374.4" y2="463" stroke-width="1.45"/>
<line x1="367.4" y1="478.5" x2="374.4" y2="478.5" stroke-width="1.45"/>
<line x1="397" y1="444.6" x2="397" y2="466.9" stroke-width="1.45"/>
<line x1="393.5" y1="444.6" x2="400.5" y2="444.6" stroke-width="1.45"/>
<line x1="393.5" y1="466.9" x2="400.5" y2="466.9" stroke-width="1.45"/>
<line x1="423.2" y1="429.4" x2="423.2" y2="461.7" stroke-width="1.45"/>
<line x1="419.7" y1="429.4" x2="426.7" y2="429.4" stroke-width="1.45"/>
<line x1="419.7" y1="461.7" x2="426.7" y2="461.7" stroke-width="1.45"/>
<line x1="447.8" y1="409.2" x2="447.8" y2="447.6" stroke-width="1.45"/>
<line x1="444.3" y1="409.2" x2="451.3" y2="409.2" stroke-width="1.45"/>
<line x1="444.3" y1="447.6" x2="451.3" y2="447.6" stroke-width="1.45"/>
<line x1="473.7" y1="404.3" x2="473.7" y2="434.9" stroke-width="1.45"/>
<line x1="470.2" y1="404.3" x2="477.2" y2="404.3" stroke-width="1.45"/>
<line x1="470.2" y1="434.9" x2="477.2" y2="434.9" stroke-width="1.45"/>
<line x1="498.9" y1="355.3" x2="498.9" y2="397.5" stroke-width="1.45"/>
<line x1="495.4" y1="355.3" x2="502.4" y2="355.3" stroke-width="1.45"/>
<line x1="495.4" y1="397.5" x2="502.4" y2="397.5" stroke-width="1.45"/>
</g>
<mask id="mDsq" maskUnits="userSpaceOnUse" x="0" y="0" width="520" height="552"><rect width="520" height="552" fill="#fff"/>
<g stroke="#000" fill="#000" stroke-width="6.75" stroke-linejoin="round">
<rect x="367.6" y="445" width="6.6" height="6.6"/>
<rect x="393.7" y="422.3" width="6.6" height="6.6"/>
<rect x="419.9" y="392.5" width="6.6" height="6.6"/>
<rect x="444.5" y="370.2" width="6.6" height="6.6"/>
<rect x="470.4" y="351.1" width="6.6" height="6.6"/>
<rect x="495.6" y="335.5" width="6.6" height="6.6"/>
</g></mask>
<g stroke="#000" fill="none" stroke-width="1.45" mask="url(#mDsq)">
<line x1="370.9" y1="438.8" x2="370.9" y2="457.2" stroke-width="1.45"/>
<line x1="367.4" y1="438.8" x2="374.4" y2="438.8" stroke-width="1.45"/>
<line x1="367.4" y1="457.2" x2="374.4" y2="457.2" stroke-width="1.45"/>
<line x1="397" y1="408.5" x2="397" y2="444.6" stroke-width="1.45"/>
<line x1="393.5" y1="408.5" x2="400.5" y2="408.5" stroke-width="1.45"/>
<line x1="393.5" y1="444.6" x2="400.5" y2="444.6" stroke-width="1.45"/>
<line x1="423.2" y1="365.4" x2="423.2" y2="426" stroke-width="1.45"/>
<line x1="419.7" y1="365.4" x2="426.7" y2="365.4" stroke-width="1.45"/>
<line x1="419.7" y1="426" x2="426.7" y2="426" stroke-width="1.45"/>
<line x1="447.8" y1="350.7" x2="447.8" y2="396.3" stroke-width="1.45"/>
<line x1="444.3" y1="350.7" x2="451.3" y2="350.7" stroke-width="1.45"/>
<line x1="444.3" y1="396.3" x2="451.3" y2="396.3" stroke-width="1.45"/>
<line x1="473.7" y1="327.8" x2="473.7" y2="381" stroke-width="1.45"/>
<line x1="470.2" y1="327.8" x2="477.2" y2="327.8" stroke-width="1.45"/>
<line x1="470.2" y1="381" x2="477.2" y2="381" stroke-width="1.45"/>
<line x1="498.9" y1="331.1" x2="498.9" y2="346.5" stroke-width="1.45"/>
<line x1="495.4" y1="331.1" x2="502.4" y2="331.1" stroke-width="1.45"/>
<line x1="495.4" y1="346.5" x2="502.4" y2="346.5" stroke-width="1.45"/>
</g>
<g stroke="#000" fill="none" stroke-width="1.8" stroke-linejoin="round">
<polyline points="370.9,464.9 397,451 423.2,437 447.8,397.1 473.7,383.1 498.9,351.1"/>
<polyline points="370.9,469.9 397,454 423.2,441.4 447.8,420.6 473.7,396.3 498.9,375"/>
<polyline points="370.9,470.8 397,456 423.2,445.4 447.8,428.4 473.7,419.6 498.9,376.4"/>
<polyline points="370.9,448.3 397,425.6 423.2,395.8 447.8,373.5 473.7,354.4 498.9,338.8"/>
</g>
<g stroke="#000" fill="#fff" stroke-width="1.55">
<path d="M370.9 461.5L374.3 467.9L367.5 467.9Z"/>
<path d="M397 447.6L400.4 454L393.6 454Z"/>
<path d="M423.2 433.6L426.6 440L419.8 440Z"/>
<path d="M447.8 393.7L451.2 400.1L444.4 400.1Z"/>
<path d="M473.7 379.7L477.1 386.1L470.3 386.1Z"/>
<path d="M498.9 347.7L502.3 354.1L495.5 354.1Z"/>
<circle cx="370.9" cy="469.9" r="3.1"/>
<circle cx="397" cy="454" r="3.1"/>
<circle cx="423.2" cy="441.4" r="3.1"/>
<circle cx="447.8" cy="420.6" r="3.1"/>
<circle cx="473.7" cy="396.3" r="3.1"/>
<circle cx="498.9" cy="375" r="3.1"/>
<path d="M370.9 467.35L374.05 470.8L370.9 474.25L367.75 470.8Z"/>
<path d="M397 452.55L400.15 456L397 459.45L393.85 456Z"/>
<path d="M423.2 441.95L426.35 445.4L423.2 448.85L420.05 445.4Z"/>
<path d="M447.8 424.95L450.95 428.4L447.8 431.85L444.65 428.4Z"/>
<path d="M473.7 416.15L476.85 419.6L473.7 423.05L470.55 419.6Z"/>
<path d="M498.9 372.95L502.05 376.4L498.9 379.85L495.75 376.4Z"/>
<rect x="367.6" y="445" width="6.6" height="6.6"/>
<rect x="393.7" y="422.3" width="6.6" height="6.6"/>
<rect x="419.9" y="392.5" width="6.6" height="6.6"/>
<rect x="444.5" y="370.2" width="6.6" height="6.6"/>
<rect x="470.4" y="351.1" width="6.6" height="6.6"/>
<rect x="495.6" y="335.5" width="6.6" height="6.6"/>
</g>
<g class="se" font-size="14.8" fill="#000" stroke="#000" stroke-width="0.3" text-anchor="end">
<path d="M314.8 274.6V283.5M313.1 282.95H316.5M312.8 276.2L314.8 274.8" fill="none" stroke="#000" stroke-width="1.25"/>
<text x="318.7" y="335.3">0.75</text>
<text x="318.5" y="388">0.5</text>
<text x="318.5" y="440">0.25</text>
<text x="319.7" y="493.1">0</text>
</g>
<g class="sa" fill="#000">
<path d="M325.2 502.9Q327.4 502.1 328 500.4M328.3 500.3V510.2" fill="none" stroke="#000" stroke-width="1.6"/>
<ellipse cx="337.7" cy="505.25" rx="2.85" ry="4.25" fill="none" stroke="#000" stroke-width="1.55"/>
<rect x="344" y="505.5" width="2.5" height="1.4"/>
<text x="349.5" y="509.7" font-size="10.8" textLength="6.1" lengthAdjust="spacingAndGlyphs" stroke="#000" stroke-width="0.1">9</text>
<path d="M407.1 503.9Q409.3 503.1 409.9 501.4M410.2 501.3V511.2" fill="none" stroke="#000" stroke-width="1.6"/>
<ellipse cx="419.6" cy="506.25" rx="2.85" ry="4.25" fill="none" stroke="#000" stroke-width="1.55"/>
<rect x="425.9" y="506.5" width="2.5" height="1.4"/>
<text x="431.4" y="510.7" font-size="10.8" textLength="6.1" lengthAdjust="spacingAndGlyphs" stroke="#000" stroke-width="0.1">8</text>
<path d="M488.8 503.2Q491 502.4 491.6 500.7M491.9 500.6V510.5" fill="none" stroke="#000" stroke-width="1.6"/>
<ellipse cx="501.3" cy="505.55" rx="2.85" ry="4.25" fill="none" stroke="#000" stroke-width="1.55"/>
<rect x="507.6" y="505.8" width="2.5" height="1.4"/>
<text x="513.1" y="510" font-size="10.8" textLength="6.1" lengthAdjust="spacingAndGlyphs" stroke="#000" stroke-width="0.1">7</text>
</g>
<text class="se" font-size="15" fill="#000" stroke="#000" stroke-width="0.25" transform="translate(14.2,305.8) rotate(-90)" textLength="86.6" lengthAdjust="spacingAndGlyphs">OD 495(nm)</text>
<text class="se" font-size="16" fill="#000" stroke="#000" stroke-width="0.25" x="203.8" y="545.9" textLength="174.2" lengthAdjust="spacingAndGlyphs">Concentration of IgM [M]</text>
</svg>
</body></html>
